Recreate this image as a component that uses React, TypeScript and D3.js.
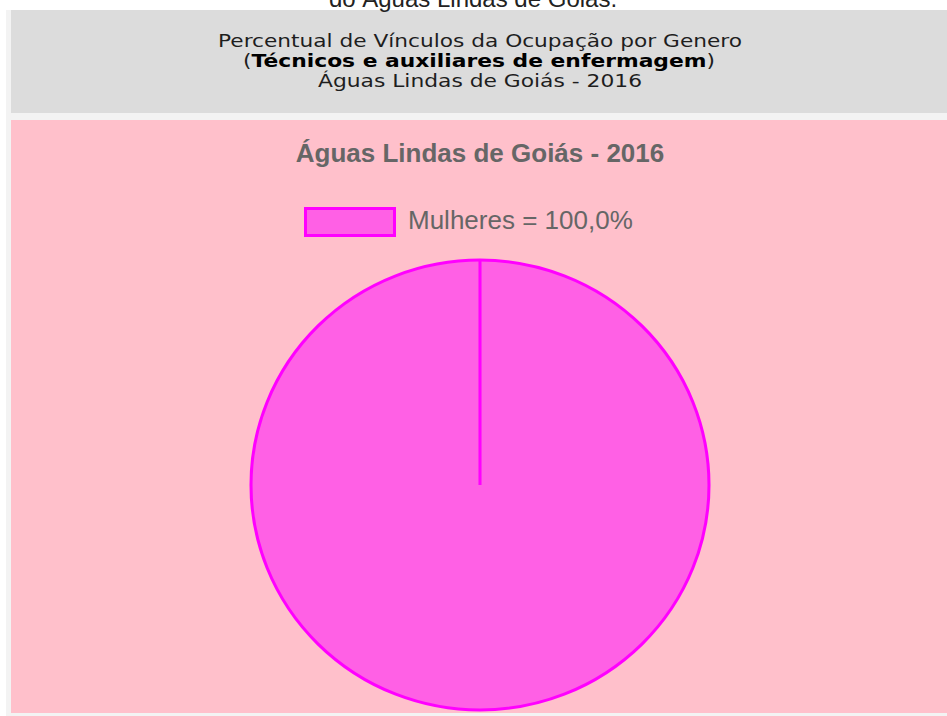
import React, { useEffect, useRef } from 'react';
import * as d3 from 'd3';

// data
const categories = ['Mulheres'];
const values = [100.0];
const sliceColors = ['#ff60e5'];
const borderColors = ['#ff00ff'];

const captionTop = 'do Águas Lindas de Goiás.';
const headerLine1 = 'Percentual de Vínculos da Ocupação por Genero';
const headerOcupacao = 'Técnicos e auxiliares de enfermagem';
const headerLine3 = 'Águas Lindas de Goiás - 2016';
const chartTitle = 'Águas Lindas de Goiás - 2016';

const W = 947;
const H = 716;

const App: React.FC = () => {
  const svgRef = useRef<SVGSVGElement>(null);

  useEffect(() => {
    if (!svgRef.current) return;
    const svg = d3.select(svgRef.current);
    svg.selectAll('*').remove();

    // page backgrounds
    svg.append('rect').attr('x', 6).attr('y', 10).attr('width', W - 6).attr('height', H - 10).attr('fill', '#f3f3f3');
    svg.append('rect').attr('x', 11).attr('y', 10).attr('width', W - 11).attr('height', 103).attr('fill', '#dcdcdc');
    svg.append('rect').attr('x', 11).attr('y', 120).attr('width', W - 11).attr('height', 593).attr('fill', '#ffc0cb');

    // cut-off caption at top
    svg.append('text')
      .attr('x', 473).attr('y', 7)
      .attr('text-anchor', 'middle')
      .style('font-family', '"Liberation Sans", Arial, sans-serif')
      .style('font-size', '24px')
      .style('fill', '#222')
      .text(captionTop);

    // header block (Verdana-like, fitted to the reference widths)
    const hdr = svg.append('g')
      .style('font-family', '"DejaVu Sans", Verdana, sans-serif')
      .style('font-size', '18px')
      .style('fill', '#1e1e1e');
    hdr.append('text')
      .attr('x', 218).attr('y', 47)
      .attr('textLength', 524).attr('lengthAdjust', 'spacingAndGlyphs')
      .text(headerLine1);
    const l2 = hdr.append('text')
      .attr('x', 243).attr('y', 67)
      .attr('textLength', 472).attr('lengthAdjust', 'spacingAndGlyphs');
    l2.append('tspan').text('(');
    l2.append('tspan').style('font-weight', 'bold').style('fill', '#000').text(headerOcupacao);
    l2.append('tspan').text(')');
    hdr.append('text')
      .attr('x', 318).attr('y', 87)
      .attr('textLength', 324).attr('lengthAdjust', 'spacingAndGlyphs')
      .text(headerLine3);

    // chart title
    svg.append('text')
      .attr('x', 480).attr('y', 162)
      .attr('text-anchor', 'middle')
      .style('font-family', '"Liberation Sans", Arial, sans-serif')
      .style('font-size', '26px')
      .style('font-weight', 'bold')
      .style('fill', '#666')
      .text(chartTitle);

    // legend
    const total = d3.sum(values);
    const legend = svg.append('g').attr('transform', 'translate(304,207)');
    categories.forEach((c, i) => {
      legend.append('rect')
        .attr('x', 1.5).attr('y', 1.5 + i * 36)
        .attr('width', 89).attr('height', 27)
        .attr('fill', sliceColors[i])
        .attr('stroke', borderColors[i])
        .attr('stroke-width', 3);
      legend.append('text')
        .attr('x', 104).attr('y', 22 + i * 36)
        .style('font-family', '"Liberation Sans", Arial, sans-serif')
        .style('font-size', '26px')
        .style('fill', '#666')
        .text(`${c} = ${d3.format('.1f')((values[i] / total) * 100).replace('.', ',')}%`);
    });

    // pie
    const r = 225;
    const pie = d3.pie<number>().sort(null).value(d => d);
    const arcs = pie(values);
    const arc = d3.arc<d3.PieArcDatum<number>>().innerRadius(0).outerRadius(r);

    const g = svg.append('g').attr('transform', `translate(480,485) scale(${229 / 225},1)`);
    g.selectAll('path.slice')
      .data(arcs)
      .enter()
      .append('path')
      .attr('class', 'slice')
      .attr('d', arc)
      .attr('fill', (_, i) => sliceColors[i])
      .attr('stroke', (_, i) => borderColors[i])
      .attr('stroke-width', 3);

    // radial border at each slice start
    arcs.forEach((a, i) => {
      const [px, py] = d3.pointRadial(a.startAngle, r);
      g.append('line')
        .attr('x1', 0).attr('y1', 0)
        .attr('x2', px).attr('y2', py)
        .attr('stroke', borderColors[i])
        .attr('stroke-width', 3);
    });
  }, []);

  return (
    <svg
      ref={svgRef}
      width={W}
      height={H}
      style={{ position: 'absolute', left: 0, top: 0, background: '#fff' }}
    />
  );
};

export default App;
